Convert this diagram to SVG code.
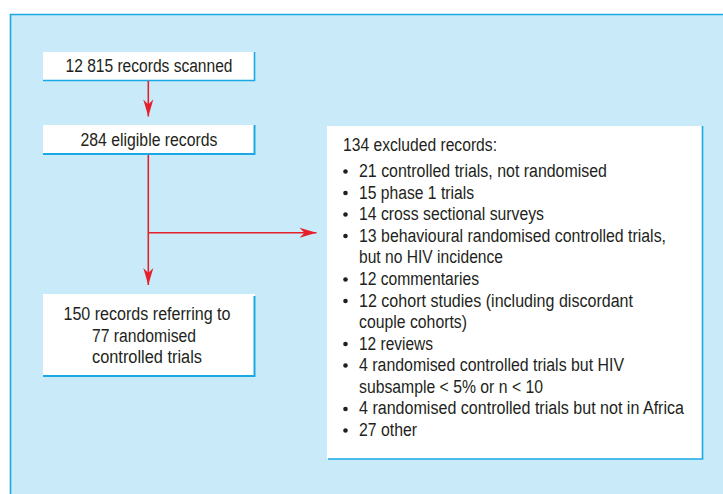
<svg xmlns="http://www.w3.org/2000/svg" width="723" height="494" viewBox="0 0 723 494">
<defs>
<style>
.t{font-family:"Liberation Sans",Arial,sans-serif;font-size:17.6px;fill:#231f20}
.box{fill:#fff}
.edge{stroke:#1aa9e4;fill:none}
.c{stroke:#e6202b;stroke-width:1.6;fill:none}
</style>
<marker id="ah" markerUnits="userSpaceOnUse" markerWidth="20" markerHeight="12" viewBox="-18 -6 19 12" refX="0" refY="0" orient="auto">
<path d="M0,0 L-17,-5 L-12,0 L-17,5 Z" fill="#e6202b"/>
</marker>
</defs>
<rect x="0" y="0" width="723" height="494" fill="#fff"/>
<rect x="10" y="14" width="720" height="490" fill="#c8eaf9"/>
<path d="M10.5,494 V14.5 H723" class="edge" stroke-width="1.6"/>

<g id="n1">
<rect class="box" x="43" y="52" width="212" height="29"/>
<path class="edge" d="M254.5,52 V80.5 H43" stroke-width="1.6"/>
<text class="t" x="149" y="72" text-anchor="middle" textLength="167" lengthAdjust="spacingAndGlyphs">12 815 records scanned</text>
</g>
<g id="n2">
<rect class="box" x="43" y="125" width="212" height="30"/>
<path class="edge" d="M254.5,125 V154 H43" stroke-width="2"/>
<text class="t" x="149" y="146" text-anchor="middle" textLength="137" lengthAdjust="spacingAndGlyphs">284 eligible records</text>
</g>
<g id="n3">
<rect class="box" x="43" y="294" width="212" height="83"/>
<path class="edge" d="M254.5,296 V376 H43" stroke-width="2"/>
<text class="t" x="147" y="320" text-anchor="middle" textLength="167" lengthAdjust="spacingAndGlyphs">150 records referring to</text>
<text class="t" x="144" y="341.5" text-anchor="middle" textLength="104" lengthAdjust="spacingAndGlyphs">77 randomised</text>
<text class="t" x="147" y="363" text-anchor="middle" textLength="110" lengthAdjust="spacingAndGlyphs">controlled trials</text>
</g>
<g id="n4">
<rect class="box" x="327" y="126" width="376" height="333"/>
<path class="edge" d="M702.5,126 V459 H328" stroke-width="1.6"/>
<text class="t" x="343" y="151" textLength="154" lengthAdjust="spacingAndGlyphs">134 excluded records:</text>
<g fill="#231f20">
<circle cx="345.5" cy="171.5" r="2.3"/><circle cx="345.5" cy="193" r="2.3"/><circle cx="345.5" cy="214.5" r="2.3"/><circle cx="345.5" cy="236" r="2.3"/><circle cx="345.5" cy="279.5" r="2.3"/><circle cx="345.5" cy="301" r="2.3"/><circle cx="345.5" cy="344" r="2.3"/><circle cx="345.5" cy="365.5" r="2.3"/><circle cx="345.5" cy="409" r="2.3"/><circle cx="345.5" cy="430.5" r="2.3"/>
</g>
<text class="t" x="359" y="177" textLength="248" lengthAdjust="spacingAndGlyphs">21 controlled trials, not randomised</text>
<text class="t" x="359" y="198.5" textLength="115" lengthAdjust="spacingAndGlyphs">15 phase 1 trials</text>
<text class="t" x="359" y="220" textLength="185" lengthAdjust="spacingAndGlyphs">14 cross sectional surveys</text>
<text class="t" x="359" y="241.5" textLength="307" lengthAdjust="spacingAndGlyphs">13 behavioural randomised controlled trials,</text>
<text class="t" x="359" y="263" textLength="144" lengthAdjust="spacingAndGlyphs">but no HIV incidence</text>
<text class="t" x="359" y="285" textLength="120" lengthAdjust="spacingAndGlyphs">12 commentaries</text>
<text class="t" x="359" y="306.5" textLength="274" lengthAdjust="spacingAndGlyphs">12 cohort studies (including discordant</text>
<text class="t" x="359" y="328" textLength="108" lengthAdjust="spacingAndGlyphs">couple cohorts)</text>
<text class="t" x="359" y="349.5" textLength="74" lengthAdjust="spacingAndGlyphs">12 reviews</text>
<text class="t" x="359" y="371" textLength="265" lengthAdjust="spacingAndGlyphs">4 randomised controlled trials but HIV</text>
<text class="t" x="359" y="392.5" textLength="184" lengthAdjust="spacingAndGlyphs">subsample &lt; 5% or n &lt; 10</text>
<text class="t" x="359" y="414" textLength="325" lengthAdjust="spacingAndGlyphs">4 randomised controlled trials but not in Africa</text>
<text class="t" x="359" y="435.5" textLength="58" lengthAdjust="spacingAndGlyphs">27 other</text>
</g>

<g id="connectors">
<path class="c" d="M148.3,81 V116.5" marker-end="url(#ah)"/>
<path class="c" d="M148.3,155 V285" marker-end="url(#ah)"/>
<path class="c" d="M148.3,232.7 H316.5" marker-end="url(#ah)"/>
</g>
</svg>
